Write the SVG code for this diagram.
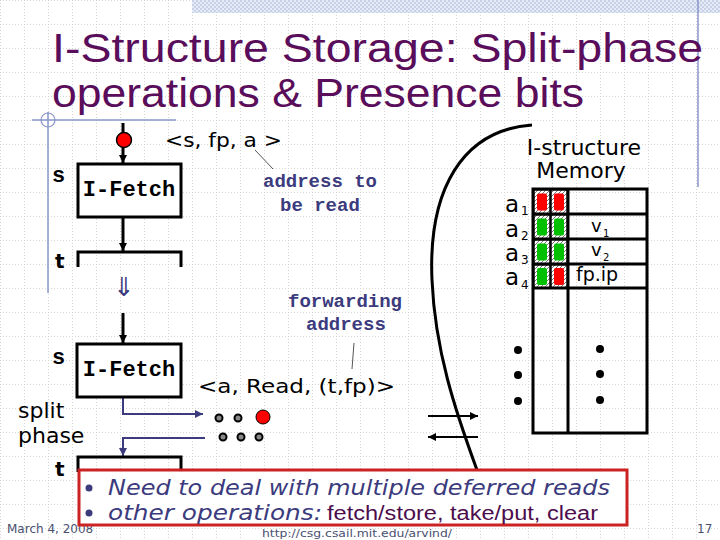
<svg xmlns="http://www.w3.org/2000/svg" width="720" height="540" viewBox="0 0 720 540">
<defs>
<pattern id="grid" x="0" y="0" width="24" height="24" patternUnits="userSpaceOnUse">
<path d="M0,0.5 H24 M0.5,0 V24" stroke="#d6d6d6" stroke-width="1" stroke-dasharray="1,2" fill="none"/>
</pattern>
<pattern id="check" x="0" y="0" width="4" height="4" patternUnits="userSpaceOnUse">
<rect width="4" height="4" fill="#e6ebf6"/>
<rect width="2" height="2" fill="#c6d0e8"/>
<rect x="2" y="2" width="2" height="2" fill="#c6d0e8"/>
</pattern>
<pattern id="hatch" x="0" y="0" width="4" height="4" patternUnits="userSpaceOnUse">
<rect width="4" height="4" fill="#ffffff"/>
<path d="M-1,1 L1,-1 M0,4 L4,0 M3,5 L5,3" stroke="#555" stroke-width="0.8"/>
</pattern>
<marker id="ah" viewBox="0 0 8 8" refX="8" refY="4" markerWidth="8" markerHeight="8" markerUnits="userSpaceOnUse" orient="auto">
<path d="M0,0 L8,4 L0,8 z" fill="#000"/>
</marker>
<marker id="ahb" viewBox="0 0 8 8" refX="8" refY="4" markerWidth="8" markerHeight="8" markerUnits="userSpaceOnUse" orient="auto">
<path d="M0,0 L8,4 L0,8 z" fill="#3b3b7d"/>
</marker>
<style>
.title{font-family:"Liberation Sans",Arial,sans-serif;font-size:40px;fill:#5a0d5a}
.mono{font-family:"Liberation Mono","Courier New",monospace;font-weight:bold}
.box{fill:#fff;stroke:#000;stroke-width:3}
.ln{fill:none;stroke:#000;stroke-width:3}
.thin{fill:none;stroke:#000;stroke-width:2}
.blue{fill:none;stroke:#3b3b7d;stroke-width:2}
.lead{fill:none;stroke:#555;stroke-width:1}
.sans{font-family:"DejaVu Sans",Verdana,sans-serif}
.note{font-family:"Liberation Mono","Courier New",monospace;font-weight:bold;font-size:19px;fill:#3b3b7d}
.dot{fill:#000}
.sdot{fill:#888;stroke:#000;stroke-width:2}
.red{fill:#ff0000}
.grn{fill:#00c000}
</style>
</defs>
<rect width="720" height="540" fill="#fff"/>
<rect width="720" height="540" fill="url(#grid)"/>
<rect x="192" y="0" width="528" height="13" fill="url(#check)"/>
<line x1="698" y1="0" x2="698" y2="187" stroke="#8a96c8" stroke-width="1.5"/>
<g id="deco">
<line x1="32" y1="120" x2="176" y2="120" stroke="#8a96c8" stroke-width="1.5"/>
<line x1="48" y1="112" x2="48" y2="293" stroke="#8a96c8" stroke-width="1.5"/>
<circle cx="48" cy="120" r="7" fill="none" stroke="#8a96c8" stroke-width="1.2"/>
</g>
<g id="title">
<text class="title" x="52" y="62" textLength="651" lengthAdjust="spacingAndGlyphs">I-Structure Storage: Split-phase</text>
<text class="title" x="52" y="107" textLength="532" lengthAdjust="spacingAndGlyphs">operations &amp; Presence bits</text>
</g>
<g id="connectors">
<line class="ln" x1="123" y1="123" x2="123" y2="163" marker-end="url(#ah)"/>
<line class="ln" x1="123" y1="217" x2="123" y2="251" marker-end="url(#ah)"/>
<line class="ln" x1="123" y1="313" x2="123" y2="343" marker-end="url(#ah)"/>
<polyline class="blue" points="123,397 123,414 203,414" marker-end="url(#ahb)"/>
<polyline class="blue" points="205,438 123,438 123,456" marker-end="url(#ahb)"/>
<path class="ln" d="M532,125 C462,130 428,190 432,280 C435,350 455,410 477,470"/>
<line class="thin" x1="428" y1="416" x2="478" y2="416" marker-end="url(#ah)"/>
<line class="thin" x1="478" y1="437" x2="428" y2="437" marker-end="url(#ah)"/>
<line class="lead" x1="255" y1="150" x2="273" y2="169"/>
<line class="lead" x1="354" y1="343" x2="352" y2="369"/>
</g>
<g id="token-in">
<circle cx="124" cy="140" r="7.5" fill="#ff0000" stroke="#000" stroke-width="1.5"/>
<text class="sans" x="165" y="147" font-size="20" textLength="117" lengthAdjust="spacingAndGlyphs">&lt;s, fp, a &gt;</text>
</g>
<g id="ifetch1">
<rect class="box" x="78" y="164" width="103" height="53"/>
<text class="mono" x="129" y="196" font-size="22" text-anchor="middle">I-Fetch</text>
<text class="mono" x="52" y="182" font-size="22">s</text>
</g>
<g id="t1">
<polyline class="ln" points="78,267 78,252 181,252 181,267"/>
<text class="sans" x="55" y="268" font-size="20" font-weight="bold">t</text>
</g>
<text class="sans" x="124" y="296" font-size="26" fill="#3b3b7d" text-anchor="middle">⇓</text>
<g id="ifetch2">
<rect class="box" x="77" y="344" width="104" height="53"/>
<text class="mono" x="129" y="376" font-size="22" text-anchor="middle">I-Fetch</text>
<text class="mono" x="52" y="364" font-size="22">s</text>
</g>
<g id="split">
<text class="sans" x="18" y="418" font-size="22">split</text>
<text class="sans" x="18" y="443" font-size="22">phase</text>
</g>
<g id="t2">
<polyline class="ln" points="78,472 78,457 181,457 181,472"/>
<text class="sans" x="55" y="476" font-size="20" font-weight="bold">t</text>
</g>
<g id="notes">
<text class="note" x="263" y="187">address to</text>
<text class="note" x="280" y="211">be read</text>
<text class="note" x="288" y="307">forwarding</text>
<text class="note" x="306" y="330">address</text>
</g>
<g id="request">
<text class="sans" x="198" y="393" font-size="20" textLength="197" lengthAdjust="spacingAndGlyphs">&lt;a, Read, (t,fp)&gt;</text>
<circle class="sdot" cx="219" cy="418" r="3.5"/>
<circle class="sdot" cx="238" cy="418" r="3.5"/>
<circle cx="263" cy="417" r="7" fill="#ff0000" stroke="#000" stroke-width="1"/>
<circle class="sdot" cx="223" cy="437" r="3.5"/>
<circle class="sdot" cx="241" cy="437" r="3.5"/>
<circle class="sdot" cx="259" cy="437" r="3.5"/>
</g>
<g id="memory">
<text class="sans" x="584" y="155" font-size="22" text-anchor="middle">I-structure</text>
<text class="sans" x="581" y="178" font-size="22" text-anchor="middle">Memory</text>
<rect x="534" y="190" width="16" height="24" fill="url(#hatch)" stroke="#000" stroke-width="1"/>
<rect x="551" y="190" width="16" height="24" fill="url(#hatch)" stroke="#000" stroke-width="1"/>
<rect x="534" y="215" width="16" height="24" fill="url(#hatch)" stroke="#000" stroke-width="1"/>
<rect x="551" y="215" width="16" height="24" fill="url(#hatch)" stroke="#000" stroke-width="1"/>
<rect x="534" y="240" width="16" height="24" fill="url(#hatch)" stroke="#000" stroke-width="1"/>
<rect x="551" y="240" width="16" height="24" fill="url(#hatch)" stroke="#000" stroke-width="1"/>
<rect x="534" y="265" width="16" height="23" fill="url(#hatch)" stroke="#000" stroke-width="1"/>
<rect x="551" y="265" width="16" height="23" fill="url(#hatch)" stroke="#000" stroke-width="1"/>
<rect class="red" x="537" y="193.5" width="10" height="17" rx="2"/>
<rect class="red" x="554" y="193.5" width="10" height="17" rx="2"/>
<rect class="grn" x="537" y="218.5" width="10" height="17" rx="2"/>
<rect class="grn" x="554" y="218.5" width="10" height="17" rx="2"/>
<rect class="grn" x="537" y="243.5" width="10" height="17" rx="2"/>
<rect class="grn" x="554" y="243.5" width="10" height="17" rx="2"/>
<rect class="grn" x="537" y="268" width="10" height="17" rx="2"/>
<rect class="red" x="554" y="268" width="10" height="17" rx="2"/>
<line class="thin" x1="550.5" y1="189" x2="550.5" y2="288"/>
<rect class="ln" x="533" y="189" width="114" height="244"/>
<line class="ln" x1="568" y1="189" x2="568" y2="433"/>
<line class="ln" x1="533" y1="214" x2="647" y2="214"/>
<line class="ln" x1="533" y1="239" x2="647" y2="239"/>
<line class="ln" x1="533" y1="264" x2="647" y2="264"/>
<line class="ln" x1="533" y1="288" x2="647" y2="288"/>
<text class="sans" x="591" y="232" font-size="18">v</text>
<text class="sans" x="603" y="237" font-size="10">1</text>
<text class="sans" x="591" y="256" font-size="18">v</text>
<text class="sans" x="603" y="261" font-size="10">2</text>
<text class="sans" x="576" y="281" font-size="19">fp.ip</text>
<text class="sans" x="505" y="212" font-size="23">a</text>
<text class="sans" x="521" y="215" font-size="12">1</text>
<text class="sans" x="505" y="237" font-size="23">a</text>
<text class="sans" x="521" y="240" font-size="12">2</text>
<text class="sans" x="505" y="261" font-size="23">a</text>
<text class="sans" x="521" y="264" font-size="12">3</text>
<text class="sans" x="505" y="285" font-size="23">a</text>
<text class="sans" x="521" y="289" font-size="12">4</text>
<circle class="dot" cx="518" cy="350" r="4"/>
<circle class="dot" cx="518" cy="375" r="4"/>
<circle class="dot" cx="518" cy="401" r="4"/>
<circle class="dot" cx="600" cy="349" r="4"/>
<circle class="dot" cx="600" cy="374" r="4"/>
<circle class="dot" cx="600" cy="400" r="4"/>
</g>
<g id="footer">
<text class="sans" x="7" y="533" font-size="12" fill="#4a5070">March 4, 2008</text>
<text class="sans" x="262" y="537" font-size="11" fill="#4a5070" textLength="190" lengthAdjust="spacingAndGlyphs">http://csg.csail.mit.edu/arvind/</text>
<text class="sans" x="697" y="533" font-size="12" fill="#4a5070">17</text>
</g>
<g id="callout">
<rect x="79" y="470" width="548" height="55" fill="#fff" fill-opacity="0.92" stroke="#cc2222" stroke-width="3"/>
<circle cx="89" cy="488" r="3.5" fill="#3b3b7d"/>
<circle cx="89" cy="513" r="3.5" fill="#3b3b7d"/>
<text class="sans" x="108" y="495" font-size="22" font-style="italic" fill="#3b3b7d" textLength="502" lengthAdjust="spacingAndGlyphs">Need to deal with multiple deferred reads</text>
<text class="sans" x="108" y="520" font-size="22" font-style="italic" fill="#3b3b7d" textLength="214" lengthAdjust="spacingAndGlyphs">other operations:</text>
<text x="327" y="520" font-family="'Liberation Sans',Arial,sans-serif" font-size="20" fill="#4d0d4d" textLength="271" lengthAdjust="spacingAndGlyphs">fetch/store, take/put, clear</text>
</g>
</svg>
